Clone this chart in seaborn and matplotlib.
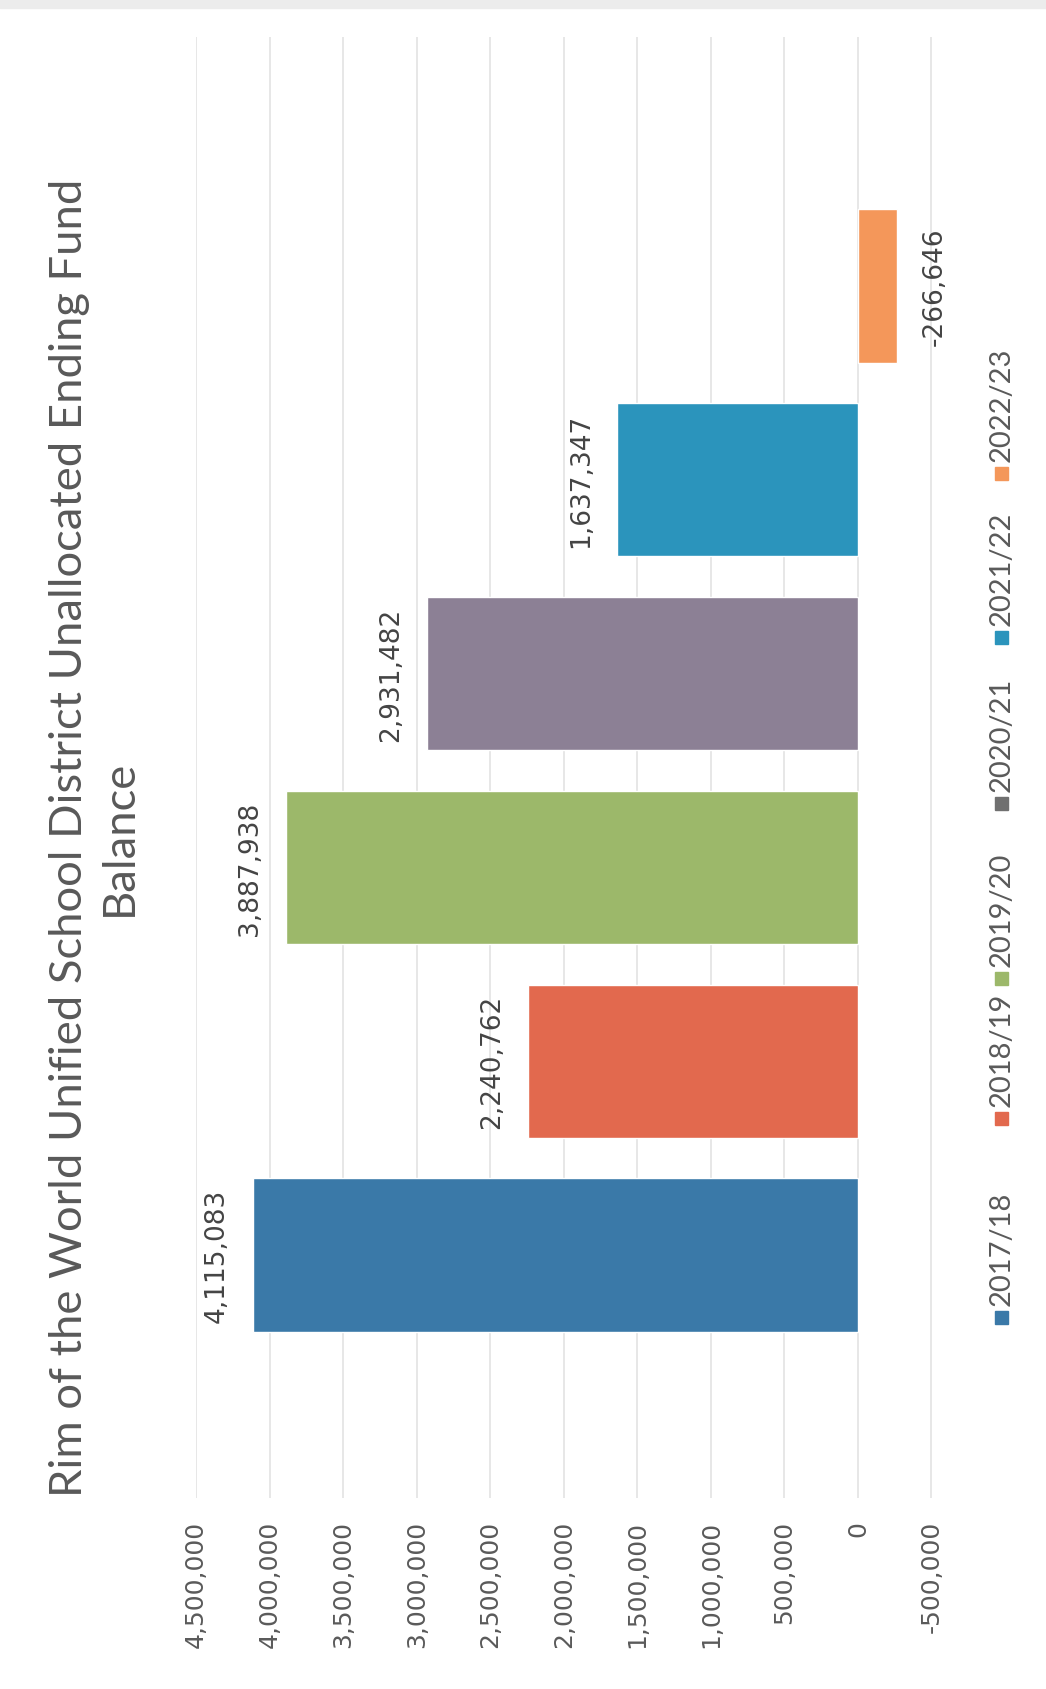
import matplotlib
matplotlib.use("Agg")
import matplotlib.pyplot as plt
from matplotlib.patches import Rectangle
import seaborn as sns
import pandas as pd

# ---- data ----
years = ["2017/18", "2018/19", "2019/20", "2020/21", "2021/22", "2022/23"]
balances = [4115083, 2240762, 3887938, 2931482, 1637347, -266646]
colors = ["#3a79a8", "#e2694e", "#9cb86a", "#8c8095", "#2b94bc", "#f4975a"]
legend_colors = ["#3a79a8", "#e2694e", "#9cb86a", "#707070", "#2b94bc", "#f4975a"]
tick_values = [4500000, 4000000, 3500000, 3000000, 2500000, 2000000,
               1500000, 1000000, 500000, 0, -500000]
title = "Rim of the World Unified School District Unallocated Ending Fund\nBalance"

df = pd.DataFrame({"year": years, "balance": balances})
palette = dict(zip(years, colors))

sns.set_style("white")
plt.rcParams["font.family"] = ["DejaVu Sans"]

W, H = 1046, 1690
fig = plt.figure(figsize=(W / 100, H / 100), dpi=100)
fig.patch.set_facecolor("white")

ax_left, ax_right = 196, 931.5
ax_top, ax_bot = 38, 1499
ax = fig.add_axes([ax_left / W, 1 - ax_bot / H, (ax_right - ax_left) / W, (ax_bot - ax_top) / H])

order = years[::-1]  # 2017/18 at bottom
sns.barplot(data=df, x="balance", y="year", hue="year", palette=palette,
            order=order, hue_order=order, orient="h", width=0.79,
            legend=False, ax=ax, saturation=1)

ax.set_xlim(4500000, -500000)
ax.set_ylim(len(years) - 1 + 1.254, -1.285)
ax.set_xticks(tick_values)
ax.set_xticklabels([f"{v:,}" for v in tick_values])
ax.tick_params(axis="x", length=0, pad=16, labelsize=18, labelcolor="#5a5a5a",
               labelrotation=90)
for lbl in ax.get_xticklabels():
    lbl.set_va("top")
ax.set_yticks([])
ax.set_xlabel("")
ax.set_ylabel("")
for s in ax.spines.values():
    s.set_visible(False)
ax.grid(axis="x", color="#e0e0e0", lw=1.1)
ax.set_axisbelow(True)

# data labels
for y, v in zip(years, balances):
    pos = order.index(y)
    dx = -36 if v >= 0 else 38
    ax.annotate(f"{v:,}", xy=(v, pos), xytext=(dx, 0), textcoords="offset pixels",
                rotation=90, ha="center", va="center", fontsize=19, color="#444444")

# title (rotated)
fig.text(94.5 / W, 1 - 838 / H, title, rotation=90, ha="center", va="center",
         multialignment="center", fontsize=32.7, color="#595959",
         family=["Lato", "DejaVu Sans"], linespacing=1.25)

# legend (rotated, manual)
marker_y = [1318, 1119, 979, 804, 638, 474]
leg_x = 1001
msz = 13
for y, lab, c in zip(marker_y, years, legend_colors):
    fig.patches.append(Rectangle(((leg_x - msz / 2) / W, 1 - (y + msz / 2) / H), msz / W, msz / H,
                                 transform=fig.transFigure, color=c, figure=fig))
    fig.text((leg_x + 1) / W, 1 - (y - 12) / H, lab, rotation=90, ha="center", va="bottom",
             fontsize=21, color="#5a5a5a", family=["Lato", "DejaVu Sans"])

# faint page edge at the top of the scan
fig.patches.append(Rectangle((0, 1 - 9 / H), 1, 9 / H, transform=fig.transFigure,
                             color="#ececec", figure=fig))

fig.savefig("out.png", dpi=100)
